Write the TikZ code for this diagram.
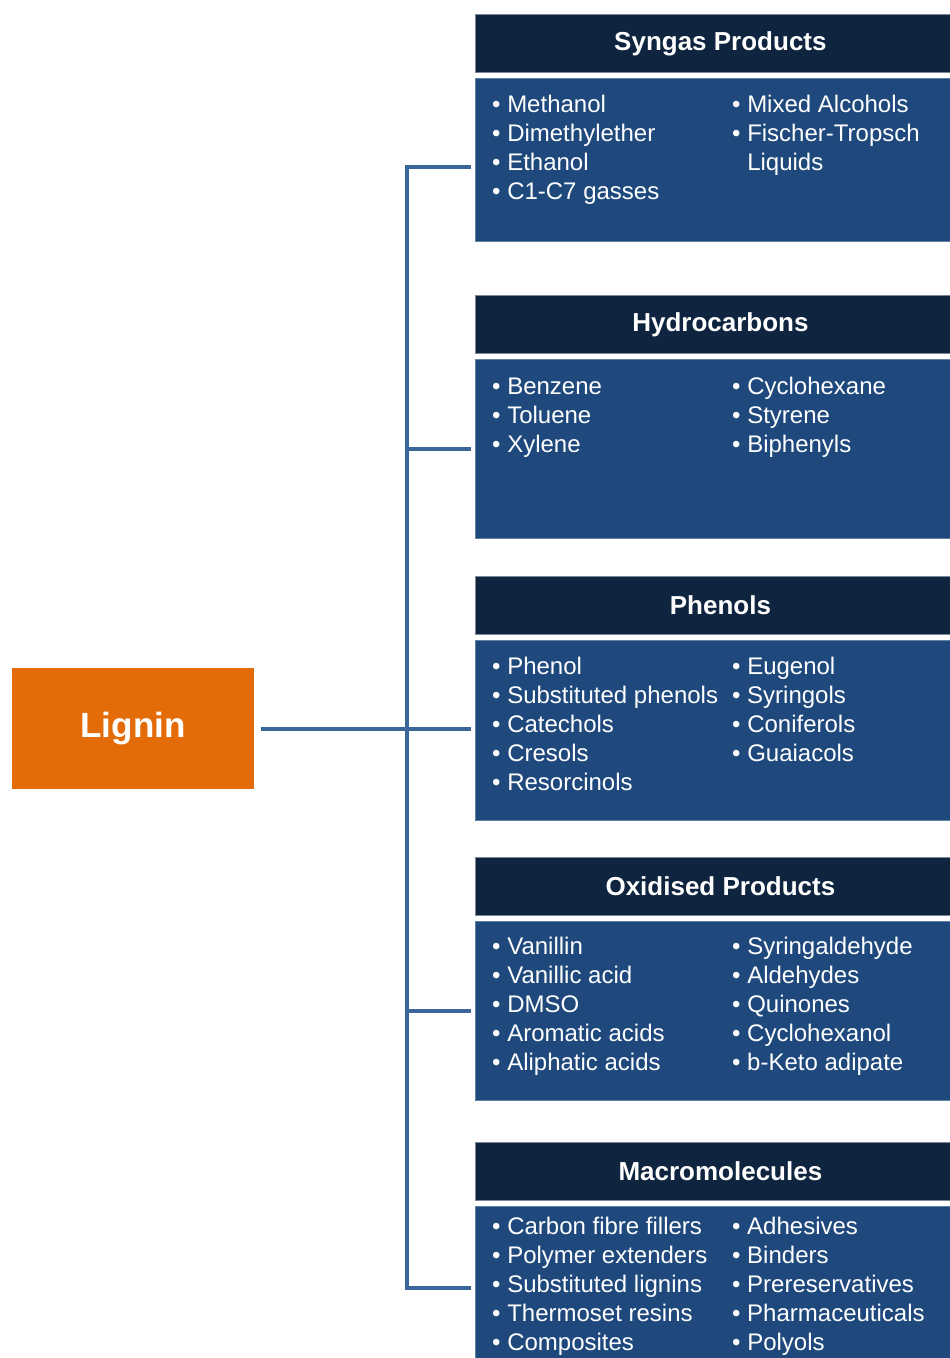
\documentclass[tikz,border=0pt]{standalone}
\usepackage{fontspec}
\setmainfont{Liberation Sans}
\usetikzlibrary{positioning}

\definecolor{navy}{HTML}{0F243E}
\definecolor{panelblue}{HTML}{1F497D}
\definecolor{rail}{HTML}{3B6699}
\definecolor{ligninorange}{HTML}{E36C09}

\begin{document}
\begin{tikzpicture}[
    x=1pt, y=-1pt,
    node distance=5pt,
    every node/.style={text=white, inner sep=0pt},
    head/.style={
      rectangle, fill=navy, draw=navy!55!white, line width=0.8pt,
      minimum width=490pt, minimum height=58pt, anchor=north west,
      font=\fontsize{26}{30}\selectfont\bfseries
    },
    panel/.style={
      rectangle, fill=panelblue, draw=panelblue!70!white, line width=0.8pt,
      minimum width=490pt, minimum height=#1
    },
    panel/.default=179pt,
    items/.style={anchor=north west, font=\fontsize{24}{29}\selectfont},
    link/.style={draw=rail, line width=4pt}
  ]
    \useasboundingbox (0,0) rectangle (950,1358);

    % source
    \node[rectangle, fill=ligninorange, minimum width=242pt, minimum height=121pt,
      font=\fontsize{35}{40}\selectfont\bfseries] (lignin) at (133,728.5) {Lignin};

    % product groups
    \node[head] (syngasHead) at (475,14) {Syngas Products};
    \node[panel=163pt, below=of syngasHead] (syngasBody) {};
    \node[items] (syngasList) at ([shift={(17,14)}]syngasBody.north west) {%
      \begin{tabular}{@{}p{240pt}@{}l@{}}
        • Methanol & • Mixed Alcohols\\
        • Dimethylether & • Fischer-Tropsch\\
        • Ethanol & \phantom{• }Liquids\\
        • C1-C7 gasses &
      \end{tabular}};

    \node[head] (hydroHead) at (475,295) {Hydrocarbons};
    \node[panel, below=of hydroHead] (hydroBody) {};
    \node[items] (hydroList) at ([shift={(17,15)}]hydroBody.north west) {%
      \begin{tabular}{@{}p{240pt}@{}l@{}}
        • Benzene & • Cyclohexane\\
        • Toluene & • Styrene\\
        • Xylene & • Biphenyls
      \end{tabular}};

    \node[head] (phenolsHead) at (475,576) {Phenols};
    \node[panel=180pt, below=of phenolsHead] (phenolsBody) {};
    \node[items] (phenolsList) at ([shift={(17,14)}]phenolsBody.north west) {%
      \begin{tabular}{@{}p{240pt}@{}l@{}}
        • Phenol & • Eugenol\\
        • Substituted phenols & • Syringols\\
        • Catechols & • Coniferols\\
        • Cresols & • Guaiacols\\
        • Resorcinols &
      \end{tabular}};

    \node[head] (oxidHead) at (475,857) {Oxidised Products};
    \node[panel, below=of oxidHead] (oxidBody) {};
    \node[items] (oxidList) at ([shift={(17,13)}]oxidBody.north west) {%
      \begin{tabular}{@{}p{240pt}@{}l@{}}
        • Vanillin & • Syringaldehyde\\
        • Vanillic acid & • Aldehydes\\
        • DMSO & • Quinones\\
        • Aromatic acids & • Cyclohexanol\\
        • Aliphatic acids & • b-Keto adipate
      \end{tabular}};

    \node[head] (macroHead) at (475,1142) {Macromolecules};
    \node[panel=180pt, below=of macroHead] (macroBody) {};
    \node[items] (macroList) at ([shift={(17,8)}]macroBody.north west) {%
      \begin{tabular}{@{}p{240pt}@{}l@{}}
        • Carbon fibre fillers & • Adhesives\\
        • Polymer extenders & • Binders\\
        • Substituted lignins & • Prereservatives\\
        • Thermoset resins & • Pharmaceuticals\\
        • Composites & • Polyols
      \end{tabular}};

    % branching rail
    \coordinate (railTop) at (407,167);
    \coordinate (railBot) at (407,1288);
    \draw[link, shorten <=4pt, shorten >=4pt]
      (railTop -| syngasBody.west) -- (railTop) -- (railBot) -- (railBot -| macroBody.west);
    \draw[link, shorten >=4pt] (railTop |- hydroBody.west) -- (hydroBody.west);
    \draw[link, shorten >=4pt] (railTop |- oxidBody.west) -- (oxidBody.west);
    \draw[link, shorten <=7pt, shorten >=4pt] (lignin.east) -- (lignin.east -| phenolsBody.west);
\end{tikzpicture}
\end{document}
